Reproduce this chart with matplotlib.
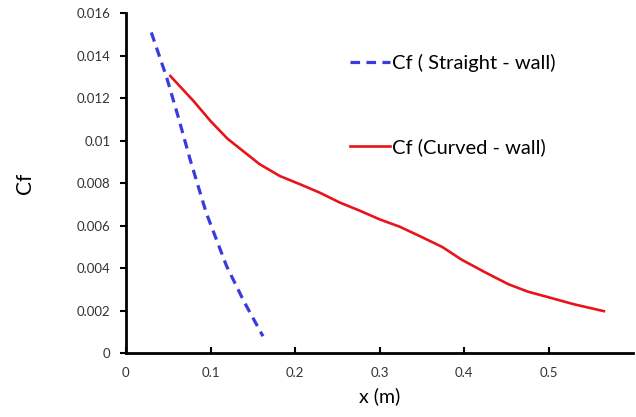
import matplotlib.pyplot as plt

# values
x_straight = [0.030, 0.048, 0.062, 0.076, 0.095, 0.119, 0.140, 0.162]
cf_straight = [0.0151, 0.0130, 0.0111, 0.0091, 0.0066, 0.0041, 0.0024, 0.0008]

x_curved = [0.0525, 0.080, 0.100, 0.120, 0.139, 0.158, 0.182, 0.206, 0.229,
            0.253, 0.277, 0.300, 0.324, 0.348, 0.374, 0.397, 0.425, 0.452,
            0.475, 0.499, 0.530, 0.565]
cf_curved = [0.01305, 0.01187, 0.01093, 0.0101, 0.0095, 0.0089, 0.00834,
             0.00795, 0.00756, 0.00709, 0.0067, 0.0063, 0.00595, 0.0055,
             0.0050, 0.0044, 0.0038, 0.00325, 0.0029, 0.00264, 0.0023, 0.00198]

x_ticks = [0, 0.1, 0.2, 0.3, 0.4, 0.5]
y_ticks = [0, 0.002, 0.004, 0.006, 0.008, 0.01, 0.012, 0.014, 0.016]
y_ticklabels = ['0', '0.002', '0.004', '0.006', '0.008', '0.01', '0.012', '0.014', '0.016']

plt.rcParams['font.family'] = ['Lato', 'DejaVu Sans']

fig = plt.figure(figsize=(6.36, 4.17), dpi=100)
ax = fig.add_axes([0.198, 0.153, 0.798, 0.815])

ax.plot(x_straight, cf_straight, color='#3a3ade', lw=2.3, ls=(0, (3, 2)),
        label='Cf ( Straight - wall)')
ax.plot(x_curved, cf_curved, color='#e8141b', lw=1.9, label='Cf (Curved - wall)')

ax.set_xlim(0, 0.6)
ax.set_ylim(0, 0.016)
ax.set_xticks(x_ticks)
ax.set_xticklabels(['0', '0.1', '0.2', '0.3', '0.4', '0.5'])
ax.set_yticks(y_ticks)
ax.set_yticklabels(y_ticklabels)

for s in ['top', 'right']:
    ax.spines[s].set_visible(False)
for s in ['left', 'bottom']:
    ax.spines[s].set_linewidth(2)
ax.tick_params(axis='y', direction='out', length=4, width=1.5, pad=7,
               labelsize=9.5, labelcolor='#333333')
ax.tick_params(axis='x', direction='in', length=4, width=1.5, pad=10,
               labelsize=9.5, labelcolor='#333333')

ax.set_ylabel('Cf', fontsize=15, labelpad=30)
ax.set_xlabel('x (m)', fontsize=14, labelpad=6)

ax.legend(loc='upper left', bbox_to_anchor=(0.406, 0.935), frameon=False,
          fontsize=14.5, labelspacing=3.3, handlelength=2.0, handletextpad=0.1)

fig.savefig('out.png', dpi=100)
